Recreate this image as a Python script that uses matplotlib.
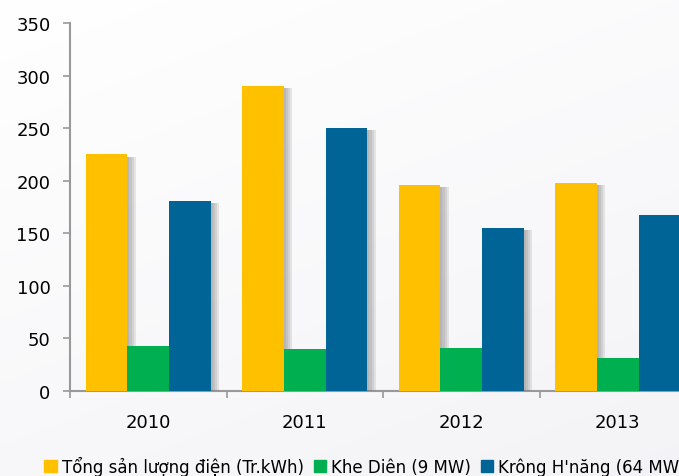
import matplotlib.pyplot as plt
import matplotlib.patheffects as pe
from matplotlib.patches import Patch
import numpy as np

years = ['2010', '2011', '2012', '2013']
series_names = ['Tổng sản lượng điện (Tr.kWh)', 'Khe Diên (9 MW)', "Krông H'năng (64 MW)"]
tong = [225, 290, 196, 198]
khe_dien = [43, 40, 41, 31]
krong_hnang = [181, 250, 155, 167]
colors = ['#FFC000', '#00B050', '#006496']

plt.rcParams['font.family'] = ['DejaVu Sans']

fig = plt.figure(figsize=(6.79, 4.77), dpi=100)
fig.patch.set_facecolor('#f7f7f9')

# soft background gradient, white at the top left, light grey-blue at the bottom
gx = np.linspace(0, 1, 256).reshape(1, -1)
gy = np.linspace(0, 1, 256).reshape(-1, 1)
t = np.clip(0.35 * gx + 0.65 * gy, 0, 1)
top = np.array([1.0, 1.0, 1.0])
bot = np.array([0.955, 0.955, 0.968])
img = top + (bot - top) * t[..., None]
bg = fig.add_axes([0, 0, 1, 1], zorder=-1)
bg.imshow(img, aspect='auto', extent=[0, 1, 0, 1])
bg.axis('off')

ax = fig.add_axes([70 / 679, 1 - 392 / 477, 626 / 679, 368 / 477])
ax.set_facecolor('none')

x = np.arange(len(years))
w = 0.8 / 3
# layered offsets give a rough blurred drop shadow to the right
shadow = [pe.SimplePatchShadow(offset=(d, -1.5), shadow_rgbFace='#777777', alpha=0.16)
          for d in (1.5, 3, 4.5, 6)] + [pe.Normal()]
for i, vals in enumerate([tong, khe_dien, krong_hnang]):
    ax.bar(x + (i - 1) * w, vals, w, color=colors[i], path_effects=shadow, zorder=3)

ax.set_xlim(-0.5, 3.5)
ax.set_ylim(0, 350)
ax.set_yticks(range(0, 351, 50))
ax.set_xticks(x)
ax.set_xticklabels(years)
ax.set_xticks(np.arange(-0.5, 3.6, 1), minor=True)
ax.tick_params(axis='x', which='major', length=0, pad=16, labelsize=13)
ax.tick_params(axis='x', which='minor', length=5, color='#999999', width=1.2)
ax.tick_params(axis='y', length=5, color='#999999', width=1.2, labelsize=13, pad=9)
for s in ['top', 'right']:
    ax.spines[s].set_visible(False)
for s in ['left', 'bottom']:
    ax.spines[s].set_color('#999999')
    ax.spines[s].set_linewidth(1.5)

handles = [Patch(color=c) for c in colors]
leg = fig.legend(handles, series_names, loc='center left', bbox_to_anchor=(0.055, 0.022), ncol=3,
                 frameon=False, fontsize=12, handlelength=0.75, handleheight=0.75,
                 handletextpad=0.3, columnspacing=0.6, borderaxespad=0)

fig.savefig('out.png', dpi=100, facecolor=fig.get_facecolor())
